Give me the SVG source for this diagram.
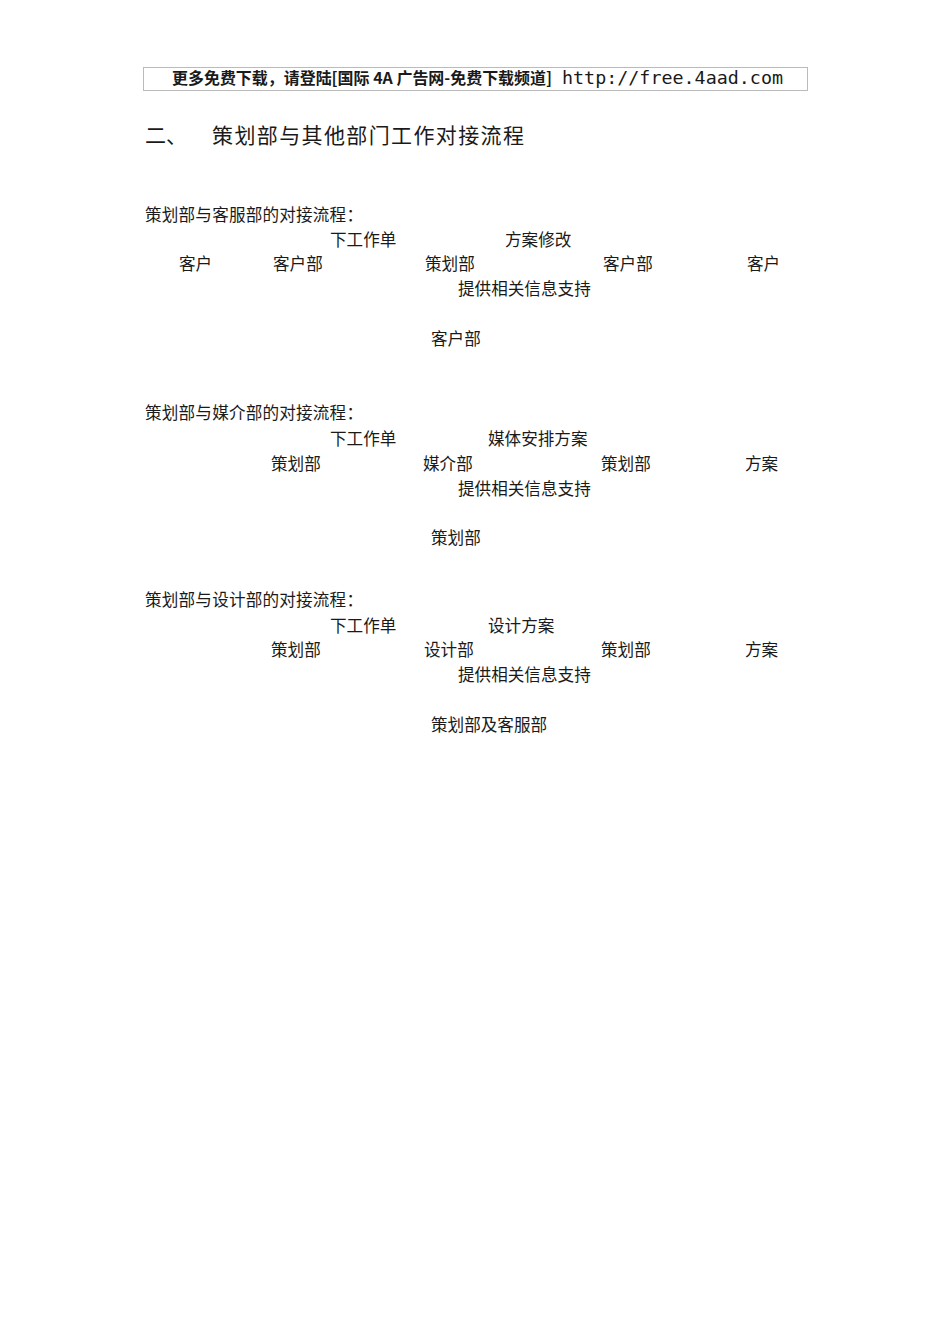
<svg xmlns="http://www.w3.org/2000/svg" width="950" height="1344" viewBox="0 0 950 1344">
<style>
text{font-family:"Noto Sans CJK SC","Noto Sans",sans-serif;fill:#1a1a1a;font-size:16.6px}
.h{font-size:21px}
.b{font-weight:bold;font-size:16px}
.m{font-family:"DejaVu Sans Mono","Liberation Mono",monospace;font-size:18px}
</style>
<rect width="950" height="1344" fill="#fff"/>
<g id="header">
<rect x="143.5" y="67.5" width="664" height="23" fill="none" stroke="#bbb" stroke-width="1"/>
<text class="b" x="172" y="84" textLength="380" lengthAdjust="spacingAndGlyphs">更多免费下载，请登陆[国际 4A 广告网-免费下载频道]</text>
<text class="m" x="562" y="84" textLength="221" lengthAdjust="spacingAndGlyphs">http://free.4aad.com</text>
</g>
<g id="title">
<text class="h" x="145" y="143">二、</text>
<text class="h" x="212" y="143" textLength="312">策划部与其他部门工作对接流程</text>
</g>
<g id="sec1">
<g id="s1-head"><text x="145" y="221" textLength="218">策划部与客服部的对接流程：</text></g>
<g id="s1-l1"><text x="330" y="246">下工作单</text></g>
<g id="s1-l2"><text x="505" y="246">方案修改</text></g>
<g id="s1-n1"><text x="179" y="270">客户</text></g>
<g id="s1-n2"><text x="273" y="270">客户部</text></g>
<g id="s1-n3"><text x="425" y="270">策划部</text></g>
<g id="s1-n4"><text x="603" y="270">客户部</text></g>
<g id="s1-n5"><text x="747" y="270">客户</text></g>
<g id="s1-l3"><text x="458" y="295">提供相关信息支持</text></g>
<g id="s1-n6"><text x="431" y="345">客户部</text></g>
</g>
<g id="sec2">
<g id="s2-head"><text x="145" y="419" textLength="218">策划部与媒介部的对接流程：</text></g>
<g id="s2-l1"><text x="330" y="445">下工作单</text></g>
<g id="s2-l2"><text x="488" y="445">媒体安排方案</text></g>
<g id="s2-n1"><text x="271" y="470">策划部</text></g>
<g id="s2-n2"><text x="423" y="470">媒介部</text></g>
<g id="s2-n3"><text x="601" y="470">策划部</text></g>
<g id="s2-n4"><text x="745" y="470">方案</text></g>
<g id="s2-l3"><text x="458" y="495">提供相关信息支持</text></g>
<g id="s2-n5"><text x="431" y="544">策划部</text></g>
</g>
<g id="sec3">
<g id="s3-head"><text x="145" y="606" textLength="218">策划部与设计部的对接流程：</text></g>
<g id="s3-l1"><text x="330" y="632">下工作单</text></g>
<g id="s3-l2"><text x="488" y="632">设计方案</text></g>
<g id="s3-n1"><text x="271" y="656">策划部</text></g>
<g id="s3-n2"><text x="424" y="656">设计部</text></g>
<g id="s3-n3"><text x="601" y="656">策划部</text></g>
<g id="s3-n4"><text x="745" y="656">方案</text></g>
<g id="s3-l3"><text x="458" y="681">提供相关信息支持</text></g>
<g id="s3-n5"><text x="431" y="731">策划部及客服部</text></g>
</g>
</svg>
